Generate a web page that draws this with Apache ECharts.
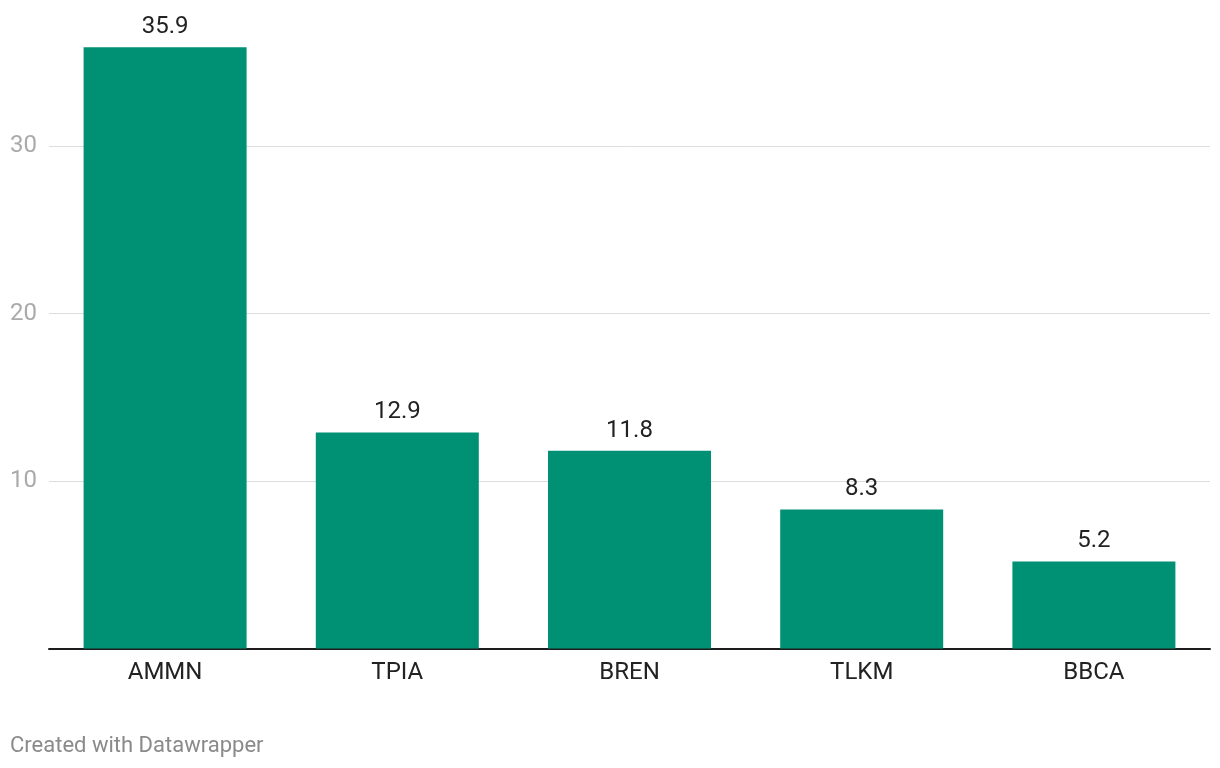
<!DOCTYPE html>
<html>
<head>
<meta charset="utf-8">
<script src="https://cdn.jsdelivr.net/npm/echarts@6/dist/echarts.min.js"></script>
<style>
html,body{margin:0;padding:0;background:#fff;}
#chart{width:1220px;height:768px;}
</style>
</head>
<body>
<div id="chart"></div>
<script>
const categories = ['AMMN', 'TPIA', 'BREN', 'TLKM', 'BBCA'];
const values = [35.9, 12.9, 11.8, 8.3, 5.2];
const yTicks = [10, 20, 30];

const chart = echarts.init(document.getElementById('chart'));
chart.setOption({
  animation: false,
  backgroundColor: '#ffffff',
  textStyle: { fontFamily: 'Roboto' },
  graphic: [{
    type: 'text',
    left: 10,
    top: 735,
    style: { text: 'Created with Datawrapper', fill: '#8a8a8a', font: '22px Roboto' }
  }],
  grid: { left: 49, right: 10, top: 45.5, bottom: 119.5, containLabel: false },
  xAxis: {
    type: 'category',
    data: categories,
    axisLine: { show: true, lineStyle: { color: '#1d1d1d', width: 2 } },
    axisTick: { show: false },
    axisLabel: { color: '#222222', fontSize: 24, margin: 12, fontFamily: 'Roboto' }
  },
  yAxis: {
    type: 'value',
    min: 0,
    max: 36,
    interval: 10,
    axisLine: { show: false },
    axisTick: { show: false },
    splitLine: { show: false },
    axisLabel: {
      color: '#aaaaaa', fontSize: 24, align: 'left', margin: 39, fontFamily: 'Roboto',
      formatter: function (v) { return yTicks.indexOf(v) >= 0 ? String(v) : ''; }
    }
  },
  series: [{
    type: 'bar',
    data: values,
    barCategoryGap: '29.8%',
    itemStyle: { color: '#009175' },
    label: {
      show: true, position: 'top', distance: 8,
      color: '#222222', fontSize: 24, fontFamily: 'Roboto',
      formatter: function (p) { return p.value.toFixed(1); }
    },
    z: 2,
    markLine: {
      silent: true,
      symbol: 'none',
      z: 1,
      label: { show: false },
      lineStyle: { color: '#dddddd', width: 1, type: 'solid' },
      data: yTicks.map(function (t) { return { yAxis: t }; })
    }
  }]
});
</script>
</body>
</html>
